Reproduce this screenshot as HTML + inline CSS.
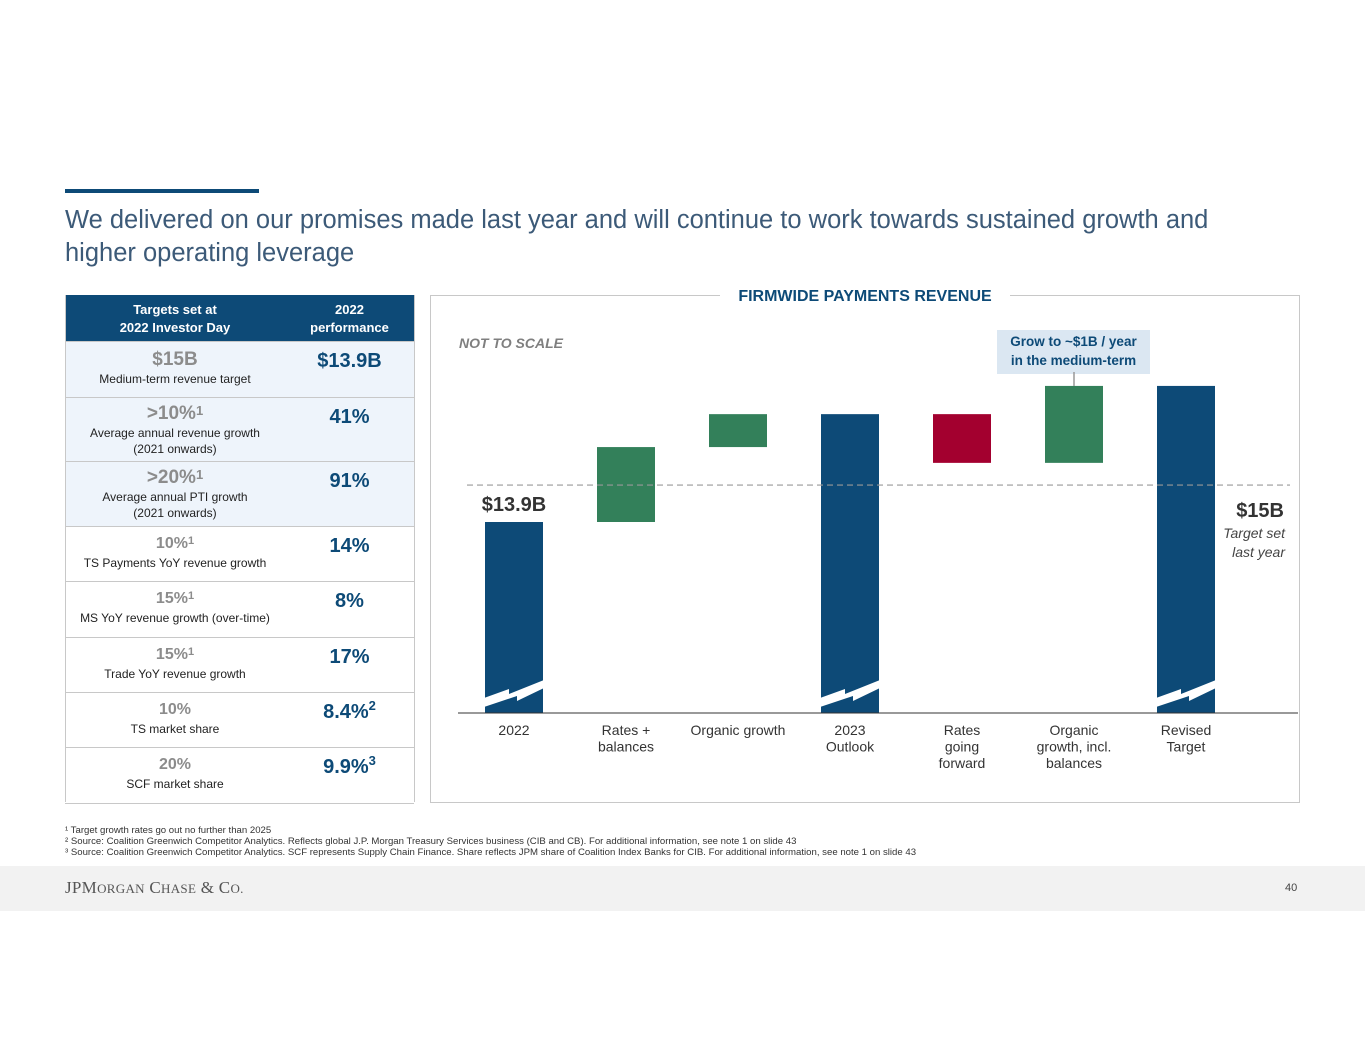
<!DOCTYPE html>
<html><head><meta charset="utf-8">
<style>
body{margin:0;width:1365px;height:1055px;background:#fff;font-family:"Liberation Sans",Arial,sans-serif;position:relative;overflow:hidden}
.abs{position:absolute}
.title{left:65px;top:204px;font-size:25.5px;color:#3c5a78;line-height:33px;width:1190px}
table{border-collapse:collapse;position:absolute;left:65px;top:295px;width:349px;font-family:"Liberation Sans",sans-serif}
td,th{text-align:center;vertical-align:top;padding:0;border-bottom:1px solid #c8c8c8}
th{background:#0d4a77;color:#fff;font-size:13px;font-weight:bold;line-height:18px;padding-top:6px;height:40px}
.big{font-size:19px;font-weight:bold;color:#8c8c8c;line-height:22px}
.small{font-size:12px;color:#222;line-height:16px}
.perf{font-size:20px;font-weight:bold;color:#0d4a77;padding-top:8px}
sup{font-size:13px;vertical-align:top;position:relative;top:-3px}
.foot{left:65px;font-size:9.6px;color:#333}
</style></head><body>
<div class="abs" style="left:65px;top:189px;width:194px;height:4px;background:#0d4a77"></div>
<div class="abs title">We delivered on our promises made last year and will continue to work towards sustained growth and higher operating leverage</div>

<table>
<tr><th style="width:220px">Targets set at<br>2022 Investor Day</th><th>2022<br>performance</th></tr>
<tr style="background:#eef4fb;height:56px"><td style="padding-top:7px"><div class="big">$15B</div><div class="small">Medium-term revenue target</div></td><td class="perf">$13.9B</td></tr>
<tr style="background:#eef4fb;height:64px"><td style="padding-top:5px"><div class="big">&gt;10%<sup>1</sup></div><div class="small">Average annual revenue growth<br>(2021 onwards)</div></td><td class="perf">41%</td></tr>
<tr style="background:#eef4fb;height:65px"><td style="padding-top:5px"><div class="big">&gt;20%<sup>1</sup></div><div class="small">Average annual PTI growth<br>(2021 onwards)</div></td><td class="perf">91%</td></tr>
<tr style="height:55px"><td style="padding-top:6px"><div class="big" style="font-size:16px">10%<sup style="font-size:11px">1</sup></div><div class="small">TS Payments YoY revenue growth</div></td><td class="perf">14%</td></tr>
<tr style="height:56px"><td style="padding-top:6px"><div class="big" style="font-size:16px">15%<sup style="font-size:11px">1</sup></div><div class="small">MS YoY revenue growth (over-time)</div></td><td class="perf">8%</td></tr>
<tr style="height:55px"><td style="padding-top:6px"><div class="big" style="font-size:16px">15%<sup style="font-size:11px">1</sup></div><div class="small">Trade YoY revenue growth</div></td><td class="perf">17%</td></tr>
<tr style="height:55px"><td style="padding-top:6px"><div class="big" style="font-size:16px">10%</div><div class="small">TS market share</div></td><td class="perf">8.4%<sup>2</sup></td></tr>
<tr style="height:56px"><td style="padding-top:6px"><div class="big" style="font-size:16px">20%</div><div class="small">SCF market share</div></td><td class="perf">9.9%<sup>3</sup></td></tr>
</table>
<div class="abs" style="left:65px;top:295px;width:348px;height:507px;border-left:1px solid #c8c8c8;border-right:1px solid #c8c8c8;pointer-events:none"></div>

<div class="abs" style="left:430px;top:295px;width:868px;height:506px;border:1px solid #c8c8c8"></div>
<div class="abs" style="left:720px;top:288px;width:290px;text-align:center;background:#fff;color:#0d4a77;font-weight:bold;font-size:16px">FIRMWIDE PAYMENTS REVENUE</div>
<div class="abs" style="left:459px;top:335px;font-size:14px;font-style:italic;font-weight:bold;color:#7f7f7f">NOT TO SCALE</div>
<div class="abs" style="left:997px;top:330px;width:153px;height:42px;background:#dbe7f2;color:#0d4a77;font-weight:bold;font-size:13.5px;text-align:center;line-height:19px;padding-top:2px">Grow to ~$1B / year<br>in the medium-term</div>

<svg class="abs" style="left:0;top:0" width="1365" height="1055" id="chart"></svg>

<div class="abs foot" style="top:825px">¹ Target growth rates go out no further than 2025</div>
<div class="abs foot" style="top:836px">² Source: Coalition Greenwich Competitor Analytics. Reflects global J.P. Morgan Treasury Services business (CIB and CB). For additional information, see note 1 on slide 43</div>
<div class="abs foot" style="top:847px">³ Source: Coalition Greenwich Competitor Analytics. SCF represents Supply Chain Finance. Share reflects JPM share of Coalition Index Banks for CIB. For additional information, see note 1 on slide 43</div>
<div class="abs" style="left:0;top:866px;width:1365px;height:45px;background:#f2f2f2"></div>
<div class="abs" style="left:65px;top:878px;font-family:'Liberation Serif',serif;font-size:17px;color:#555;letter-spacing:0.3px">JPM<span style="font-size:13px">ORGAN</span> C<span style="font-size:13px">HASE</span> &amp; C<span style="font-size:13px">O.</span></div>
<div class="abs" style="left:1285px;top:882px;font-size:11px;color:#444">40</div>

<script>
const categories=["2022","Rates +|balances","Organic growth","2023|Outlook","Rates|going|forward","Organic|growth, incl.|balances","Revised|Target"];
const types=["total","delta","delta","total","delta","delta","total"];
const values=[13.9,2.23,0.98,17.11,-1.45,2.29,17.95];
const targetValue=15.0;
const svg=document.getElementById('chart');
const NS='http://www.w3.org/2000/svg';
const baseY=713, plotL=458, plotR=1298;
function y(v){return 522-(v-13.9)*33.6;}
function xc(i){return 514+i*112;}
const barW=58;
function mk(t,a){const e=document.createElementNS(NS,t);for(const k in a)e.setAttribute(k,a[k]);svg.appendChild(e);return e;}
let run=0;
categories.forEach((c,i)=>{
  let top,bot,col;
  if(types[i]==='total'){run=values[i];top=y(run);bot=baseY;col='#0d4a77';}
  else{const s=run;run=s+values[i];top=y(Math.max(s,run));bot=y(Math.min(s,run));col=values[i]>=0?'#33805a':'#a3002f';}
  const r=mk('rect',{x:xc(i)-barW/2,y:top,width:barW,height:bot-top,fill:col});
  
  
  if(types[i]==='total'){
    const l=xc(i)-barW/2-1,rr=xc(i)+barW/2+1;
    const p=mk('polygon',{points:`${l},${698} ${l+25},${689} ${l+25},${694} ${rr},${680} ${rr},${688} ${l+33},${701} ${l+33},${696} ${l},${707}`,fill:'#fff'});
    
    
  }
  c.split('|').forEach((ln,k)=>{
    const t=mk('text',{x:xc(i),y:735+k*16.5,'text-anchor':'middle','font-size':14,fill:'#333','font-family':'Liberation Sans, sans-serif'});
    t.textContent=ln;
    
    
  });
});
const ax=mk('line',{x1:plotL,x2:plotR,y1:baseY,y2:baseY,stroke:'#333','stroke-width':1});


const dl=mk('line',{x1:467,x2:1290,y1:y(targetValue),y2:y(targetValue),stroke:'#999','stroke-width':1.2,'stroke-dasharray':'6,4'});


const cl=mk('line',{x1:1074,x2:1074,y1:372,y2:386,stroke:'#999','stroke-width':1.5});


const v0=mk('text',{x:xc(0),y:y(values[0])-11,'text-anchor':'middle','font-size':20,'font-weight':'bold',fill:'#333','font-family':'Liberation Sans, sans-serif'});
v0.textContent='$'+values[0]+'B';


const tv=mk('text',{x:1284,y:517,'text-anchor':'end','font-size':20,'font-weight':'bold',fill:'#333','font-family':'Liberation Sans, sans-serif'});
tv.textContent='$'+targetValue.toFixed(0)+'B';


['Target set','last year'].forEach((s,k)=>{
  const t=mk('text',{x:1285,y:538+k*19,'text-anchor':'end','font-size':14,'font-style':'italic',fill:'#444','font-family':'Liberation Sans, sans-serif'});
  t.textContent=s;
  
  
});
</script>
</body></html>
